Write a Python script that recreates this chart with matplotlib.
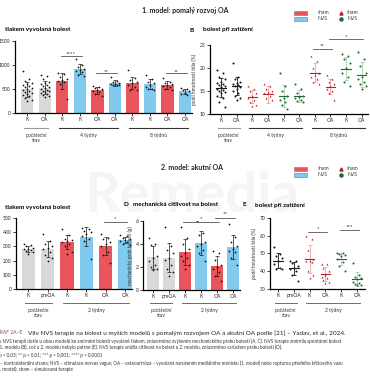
import numpy as np
import matplotlib
matplotlib.use("Agg")
import matplotlib.pyplot as plt
from matplotlib.patches import Rectangle
from matplotlib.lines import Line2D
from matplotlib.transforms import blended_transform_factory

plt.rcParams['font.family'] = ['Lato', 'DejaVu Sans']

W, H = 370, 383

# -----------------------------
# Data
# -----------------------------
# Panel A - model 1, tlakem vyvolana bolest (bars)
a_labels = ["K", "OA", "K", "K", "OA", "OA", "K", "K", "OA", "OA"]
a_kind = ["base", "base", "sham", "nvs", "sham", "nvs", "sham", "nvs", "sham", "nvs"]
a_points = [
    [880, 700, 660, 620, 600, 580, 560, 540, 520, 500, 480, 460, 440, 420, 400, 380, 350, 320, 280, 250],
    [800, 780, 700, 650, 620, 600, 580, 560, 540, 520, 500, 480, 460, 450, 440, 420, 400, 380, 350, 330],
    [830, 820, 760, 700, 680, 660, 640, 600, 300],
    [1120, 1000, 950, 920, 900, 880, 860, 800, 780],
    [560, 540, 520, 500, 480, 460, 440, 400, 350],
    [750, 660, 640, 620, 600, 600, 590, 580, 580],
    [900, 720, 680, 650, 620, 580, 550, 480, 480],
    [790, 700, 650, 620, 580, 550, 500, 490, 480],
    [720, 650, 620, 600, 580, 560, 540, 500, 480],
    [520, 500, 470, 450, 420, 400, 380],
]
a_sig = [(2, 3, 1190, "****"), (4, 5, 826, "**"), (8, 9, 826, "**")]

# Panel B - model 1, bolest pri zatizeni (scatter)
b_labels = ["K", "OA", "K", "OA", "K", "OA", "K", "OA", "K", "OA"]
b_kind = ["base", "base", "sham", "sham", "nvs", "nvs", "sham", "sham", "nvs", "nvs"]
b_points = [
    [19.5, 19.0, 18, 17.5, 17, 16.8, 16.5, 16.2, 16, 15.8, 15.5, 15.2, 15, 14.8, 14.5, 14, 13.5, 12.5, 11.5],
    [21, 18, 17.5, 17, 16.8, 16.5, 16.3, 16, 15.8, 15.5, 15, 14.5, 14, 13.5, 13],
    [16, 15.5, 15, 14.5, 14, 13.5, 13, 12.5, 12, 11.8],
    [16.5, 16, 15.5, 15, 14.8, 14.5, 14, 13.5, 13, 10],
    [19, 16, 15, 14, 13.5, 13, 12.5, 12, 11],
    [16.5, 15.5, 14.5, 14, 13.8, 13.5, 13, 12.8, 12.5],
    [22.5, 21.5, 20, 19, 18.5, 18, 17.5, 17, 16.5],
    [18.5, 17.5, 17, 16.5, 16, 15.5, 15, 14.5, 13],
    [23, 22.5, 22, 21, 20, 19, 18, 17, 16],
    [23.5, 22, 20.5, 19, 18, 17.5, 17, 16.5, 16, 15.5],
]
b_sig = [(6, 7, 24.2, "**"), (7, 9, 26.2, "*")]

# Panel C - model 2, tlakem vyvolana bolest (bars)
c_labels = ["K", "preOA", "K", "K", "OA", "OA"]
c_kind = ["base", "base", "sham", "nvs", "sham", "nvs"]
c_points = [
    [320, 310, 300, 290, 285, 280, 275, 270, 260, 250],
    [390, 340, 320, 300, 290, 280, 260, 240, 220, 200],
    [420, 380, 350, 345, 340, 330, 320, 300, 260, 250],
    [430, 420, 410, 400, 390, 370, 350, 340, 210],
    [390, 360, 350, 330, 320, 300, 260, 240, 180],
    [380, 370, 360, 350, 345, 340, 330, 320, 310],
]
c_sig = [(4, 5, 470, "*")]

# Panel D - model 2, mechanicka citlivost na bolest (bars)
d_labels = ["K", "preOA", "K", "K", "OA", "OA"]
d_kind = ["base", "base", "sham", "nvs", "sham", "nvs"]
d_points = [
    [4.5, 4.0, 3.9, 3.0, 2.8, 2.5, 2.2, 2.0, 1.8, 1.7],
    [5.5, 3.8, 3.5, 3.2, 2.8, 2.6, 2.2, 1.8, 1.6, 1.2],
    [5.5, 4.5, 4.0, 3.6, 3.2, 3.0, 2.8, 2.5, 2.2, 1.8],
    [6.0, 5.0, 4.8, 4.2, 4.0, 3.8, 3.5, 3.2, 2.5],
    [3.4, 3.2, 2.6, 2.2, 2.0, 1.8, 1.6, 1.2, 0.8],
    [5.7, 4.6, 4.2, 3.8, 3.6, 3.4, 3.3, 2.8, 2.2],
]
d_sig = [(2, 4, 5.9, "*"), (4, 5, 6.3, "**")]

# Panel E - model 2, bolest pri zatizeni (scatter)
e_labels = ["K", "preOA", "K", "OA", "K", "OA"]
e_kind = ["base", "base", "sham", "sham", "nvs", "nvs"]
e_points = [
    [53.5, 49.5, 48.5, 47.5, 45.5, 44, 42, 41.5, 41],
    [46, 45.5, 44.5, 43, 42, 41, 40, 38, 34.5],
    [60, 58, 52, 47, 46, 45.5, 45, 40, 38, 36],
    [44, 44, 42, 40, 38, 37, 36, 35, 34, 33.5],
    [50.5, 50, 49.5, 49, 48.5, 47, 45, 43, 40],
    [44.5, 38, 37, 36, 35.5, 34, 33.5, 33, 32.5, 32],
]
e_sig = [(2, 3, 62, "*"), (4, 5, 63, "***")]

# -----------------------------
# Styles
# -----------------------------
BAR_COL = {"base": "#d9d9d9", "sham": "#e9545d", "nvs": "#80c9ef"}
PT_COL = {"base": "#1a1a1a", "sham": "#b3202c", "nvs": "#1f6b34"}
ERR_COL = {"base": "#1a1a1a", "sham": "#f0a3a3", "nvs": "#a6d3a6"}
PT_MARK = {"base": "o", "sham": "^", "nvs": "o"}
GREY = "#555555"

fig = plt.figure(figsize=(W / 100, H / 100), dpi=100)


def px_axes(x0, y0, x1, y1):
    return fig.add_axes([x0 / W, 1 - y1 / H, (x1 - x0) / W, (y1 - y0) / H])


def ftext(x, y, s, **kw):
    fig.text(x / W, 1 - y / H, s, **kw)


def jitter(n, width=0.34):
    # deterministic spread of points around the group centre
    k = np.arange(n)
    return ((k * 3) % 5 - 2) / 2 * width / 1.4


def style_axes(ax, labels, ylim, yticks):
    ax.set_xlim(-0.7, len(labels) - 0.6)
    ax.set_ylim(*ylim)
    ax.set_yticks(yticks)
    ax.set_xticks(range(len(labels)))
    ax.set_xticklabels(labels)
    for s in ["top", "right"]:
        ax.spines[s].set_visible(False)
    for s in ["left", "bottom"]:
        ax.spines[s].set_linewidth(0.9)
    ax.tick_params(labelsize=3.6, length=2, width=0.6, pad=1.2, colors="#222222")
    ax.patch.set_alpha(0)


def bar_panel(ax, points, kind):
    for i, (p, k) in enumerate(zip(points, kind)):
        p = np.array(p, dtype=float)
        m, sd = p.mean(), p.std(ddof=1)
        ax.bar(i, m, width=0.7, color=BAR_COL[k], zorder=1)
        ax.errorbar(i, m, yerr=sd, color="#1a1a1a", capsize=1.3, elinewidth=0.5,
                    capthick=0.5, zorder=3)
        ax.scatter(i + jitter(len(p)), p, s=1.6, color="#111111", zorder=4, linewidths=0)


def dot_panel(ax, points, kind):
    for i, (p, k) in enumerate(zip(points, kind)):
        p = np.array(p, dtype=float)
        m, sd = p.mean(), p.std(ddof=1)
        ax.errorbar(i, m, yerr=sd, color=ERR_COL[k], capsize=1.3, elinewidth=0.6,
                    capthick=0.6, zorder=2)
        ax.plot([i - 0.3, i + 0.3], [m, m], color=PT_COL[k], lw=0.8, zorder=3)
        ax.scatter(i + jitter(len(p)), p, s=2.2, marker=PT_MARK[k], color=PT_COL[k],
                   zorder=4, linewidths=0, clip_on=False)


def sig_marks(ax, sig, dy):
    for i, j, y, lab in sig:
        ax.plot([i - 0.1, j + 0.1], [y, y], color=GREY, lw=0.6, clip_on=False)
        ax.text((i + j) / 2, y + dy, lab, ha="center", va="center", fontsize=4.2,
                color="#222222", clip_on=False)


def groups(ax, spans, line_y, text_y):
    tr = blended_transform_factory(ax.transData, fig.transFigure)
    for i0, i1, lab, col in spans:
        ax.plot([i0 - 0.2, i1 + 0.2], [1 - line_y / H] * 2, transform=tr,
                color=col, lw=0.8 if col != GREY else 0.6, clip_on=False)
        ax.text((i0 + i1) / 2, 1 - text_y / H, lab, transform=tr, ha="center",
                va="top", fontsize=3.6, color="#333333", linespacing=1.1)


# Watermark
ftext(192, 212, "Remedia", fontsize=40, color="#f5f5f5", ha="center", va="baseline",
      fontweight="bold", zorder=-5)

# -----------------------------
# Model 1
# -----------------------------
ftext(185, 10, "1. model: pomalý rozvoj OA", fontsize=5, fontweight="bold",
      ha="center", va="center", color="#222222")

axA = px_axes(15, 41, 192, 113)
bar_panel(axA, a_points, a_kind)
style_axes(axA, a_labels, (0, 1500), [0, 500, 1000, 1500])
axA.set_xlim(-0.7, 9.4)
sig_marks(axA, a_sig, 40)
groups(axA, [(0, 1, "počáteční\nstav", "#999999"), (2, 5, "4 týdny", "#333333"),
             (6, 9, "8 týdnů", "#333333")], 128, 133)
ftext(5, 30, "tlakem vyvolaná bolest", fontsize=4.6, fontweight="bold", va="center")

axB = px_axes(210, 45, 368, 114)
dot_panel(axB, b_points, b_kind)
style_axes(axB, b_labels, (10, 25), [10, 15, 20, 25])
axB.set_xlim(-0.7, 9.4)
axB.set_ylabel("podíl hmotnosti těla (%)", fontsize=3.5, labelpad=2, color="#333333")
sig_marks(axB, b_sig, 0.7)
groups(axB, [(0, 1, "počáteční\nstav", "#999999"), (2, 5, "4 týdny", "#333333"),
             (6, 9, "8 týdnů", "#333333")], 128, 133)
ftext(190, 30, "B", fontsize=4.6, fontweight="bold", va="center")
ftext(203, 30, "bolest při zatížení", fontsize=4.6, fontweight="bold", va="center")


def legend(y0):
    for k, (lab, yy) in enumerate([("sham", y0), ("NVS", y0 + 6)]):
        col = BAR_COL["sham"] if k == 0 else BAR_COL["nvs"]
        fig.add_artist(Rectangle((294 / W, 1 - (yy + 2) / H), 13 / W, 4 / H,
                                 transform=fig.transFigure, facecolor=col,
                                 edgecolor="#777777", lw=0.4))
        ftext(318, yy, lab, fontsize=3.6, va="center", color="#333333")
        kind = "sham" if k == 0 else "nvs"
        fig.add_artist(Line2D([341 / W], [1 - yy / H], marker=PT_MARK[kind], ms=2.2,
                              color=PT_COL[kind], lw=0, transform=fig.transFigure))
        ftext(347, yy, lab, fontsize=3.6, va="center", color="#333333")


legend(13)

# -----------------------------
# Model 2
# -----------------------------
ftext(192, 167, "2. model: akutní OA", fontsize=5, fontweight="bold",
      ha="center", va="center", color="#222222")
legend(169)

axC = px_axes(16, 218, 132, 289)
bar_panel(axC, c_points, c_kind)
style_axes(axC, c_labels, (0, 500), [0, 100, 200, 300, 400, 500])
axC.set_xlim(-0.64, 5.36)
sig_marks(axC, c_sig, 25)
groups(axC, [(0, 1, "počáteční\nstav", GREY), (2, 5, "2 týdny", GREY)], 303, 308)
ftext(5, 207, "tlakem vyvolaná bolest", fontsize=4.6, fontweight="bold", va="center")

axD = px_axes(143, 221, 240, 290)
bar_panel(axD, d_points, d_kind)
style_axes(axD, d_labels, (0, 6), [0, 2, 4, 6])
axD.set_xlim(-0.63, 5.44)
axD.set_ylabel("mechanický práh bolesti (g)", fontsize=3.5, labelpad=2, color="#333333")
sig_marks(axD, d_sig, 0.3)
groups(axD, [(0, 1, "počáteční\nstav", GREY), (2, 5, "2 týdny", GREY)], 303, 308)
ftext(123, 205, "D", fontsize=4.6, fontweight="bold", va="center")
ftext(133, 205, "mechanická citlivost na bolest", fontsize=4.6, fontweight="bold",
      va="center")

axE = px_axes(270, 218, 365, 289)
dot_panel(axE, e_points, e_kind)
style_axes(axE, e_labels, (30, 70), [30, 40, 50, 60, 70])
axE.set_xlim(-0.5, 5.5)
axE.set_ylabel("podíl hmotnosti těla (%)", fontsize=3.5, labelpad=2, color="#333333")
sig_marks(axE, e_sig, 2)
groups(axE, [(0, 1, "počáteční\nstav", GREY), (2, 5, "2 týdny", GREY)], 303, 308)
ftext(243, 205, "E", fontsize=4.6, fontweight="bold", va="center")
ftext(255, 205, "bolest při zatížení", fontsize=4.6, fontweight="bold", va="center")

# -----------------------------
# Caption
# -----------------------------
ftext(-4, 333, "GRAF 2A–E", fontsize=3.6, color="#8a5050", va="center")
ftext(28, 333, "Vliv NVS terapie na bolest u myších modelů s pomalým rozvojem OA a akutní OA "
      "podle [21] – Yadav, et al., 2024.", fontsize=4.6, va="center", color="#222222")
cap = [
    (341, "Po NVS terapii došlo u obou modelů ke zmírnění bolesti vyvolané tlakem, znázorněno "
          "zvýšením mechanického prahu bolesti (A, C). NVS terapie zmírnila spontánní bolest"),
    (347, "u 1. modelu (B), což u 2. modelu nebylo patrné (E). NVS terapie snížila citlivost "
          "na bolest u 2. modelu, znázorněno vzrůstem prahu bolesti (D)."),
    (355, "* p < 0,05; ** p < 0,01; *** p < 0,001; **** p < 0,0001"),
    (363, "K – kontralaterální strana; NVS – stimulace nervus vagus; OA – osteoartróza – vyvolaná "
          "narušením mediálního menisku (1. model) nebo rupturou předního křížového vazu"),
    (369, "(2. model); sham – simulovaná terapie"),
]
for y, s in cap:
    ftext(-4, y, s, fontsize=3.3, va="center", color="#333333")

fig.savefig("out.png", dpi=100)
